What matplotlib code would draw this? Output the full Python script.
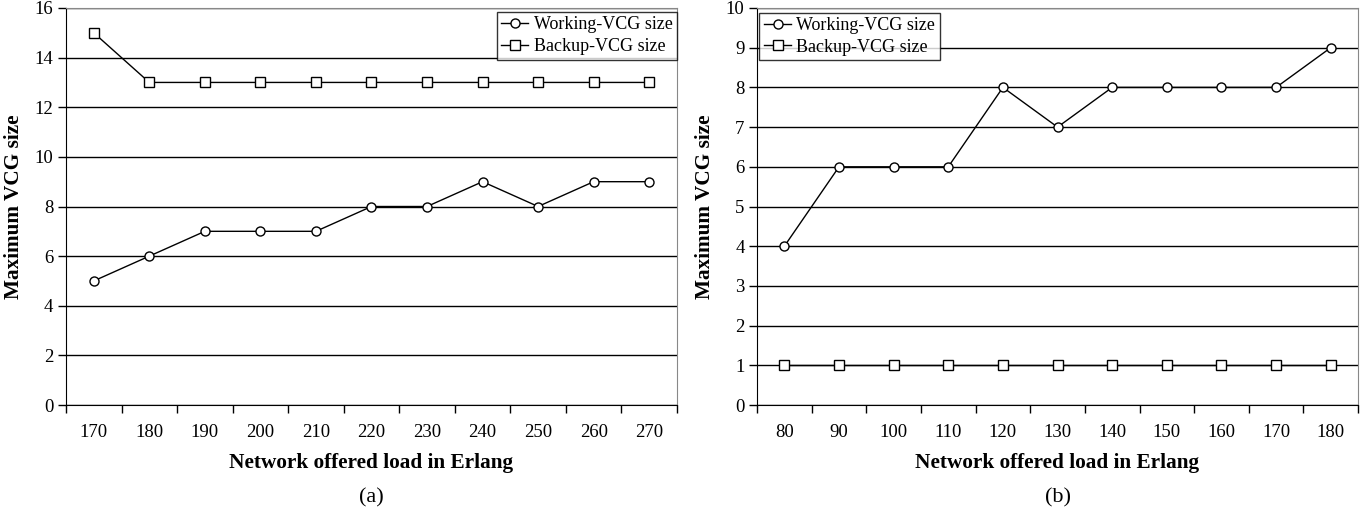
import matplotlib.pyplot as plt

plt.rcParams['font.family'] = ['Liberation Serif', 'DejaVu Serif']

# panel (a)
loads_a = ['170', '180', '190', '200', '210', '220', '230', '240', '250', '260', '270']
working_a = [5, 6, 7, 7, 7, 8, 8, 9, 8, 9, 9]
backup_a = [15, 13, 13, 13, 13, 13, 13, 13, 13, 13, 13]

# panel (b)
loads_b = ['80', '90', '100', '110', '120', '130', '140', '150', '160', '170', '180']
working_b = [4, 6, 6, 6, 8, 7, 8, 8, 8, 8, 9]
backup_b = [1, 1, 1, 1, 1, 1, 1, 1, 1, 1, 1]


def draw_panel(ax, loads, working, backup, ymax, ystep, legend_loc, anchor, tag):
    xs = list(range(len(loads)))
    style = dict(color='black', lw=1, markersize=6.5, markerfacecolor='white',
                 markeredgecolor='black', markeredgewidth=1, clip_on=False, zorder=3)
    ax.plot(xs, working, marker='o', label='Working-VCG size', **style)
    ax.plot(xs, backup, marker='s', label='Backup-VCG size', **style)

    ax.set_xlim(-0.5, len(loads) - 0.5)
    ax.set_ylim(0, ymax)
    ax.set_yticks(range(0, ymax + 1, ystep))
    ax.yaxis.grid(True, color='black', lw=1)
    ax.set_axisbelow(True)

    # excel style category axis: ticks between categories
    ax.set_xticks([i - 0.5 for i in range(len(loads) + 1)])
    ax.set_xticklabels([])
    ax.set_xticks(xs, minor=True)
    ax.set_xticklabels(loads, minor=True)
    ax.tick_params(axis='x', which='major', direction='out', length=6, width=1)
    ax.tick_params(axis='x', which='minor', length=0, pad=14, labelsize=13.5)
    ax.tick_params(axis='y', direction='out', length=6, width=1, labelsize=13.5, pad=3)

    for side in ['top', 'right']:
        ax.spines[side].set_color('#888888')
    for side in ['left', 'bottom']:
        ax.spines[side].set_color('black')

    ax.set_xlabel('Network offered load in Erlang', fontsize=15.3,
                  fontweight='bold', labelpad=8)
    ax.set_ylabel('Maximum VCG size', fontsize=15.3, fontweight='bold', labelpad=8)

    leg = ax.legend(loc=legend_loc, bbox_to_anchor=anchor, fontsize=13,
                    frameon=True, fancybox=False, edgecolor='black',
                    handlelength=1.5, handletextpad=0.3, borderpad=0.25,
                    labelspacing=0.25, borderaxespad=0)
    leg.get_frame().set_linewidth(1)
    ax.text(0.5, -0.235, tag, transform=ax.transAxes, ha='center', va='center',
            fontsize=16)


fig = plt.figure(figsize=(13.69, 5.16), dpi=100)
ax_a = fig.add_axes([0.0482, 0.2151, 0.4463, 0.7694])
ax_b = fig.add_axes([0.553, 0.2151, 0.439, 0.7694])

draw_panel(ax_a, loads_a, working_a, backup_a, 16, 2, 'upper right', (1.0, 0.99), '(a)')
draw_panel(ax_b, loads_b, working_b, backup_b, 10, 1, 'upper left', (0.004, 0.988), '(b)')

fig.savefig('out.png', dpi=100)
